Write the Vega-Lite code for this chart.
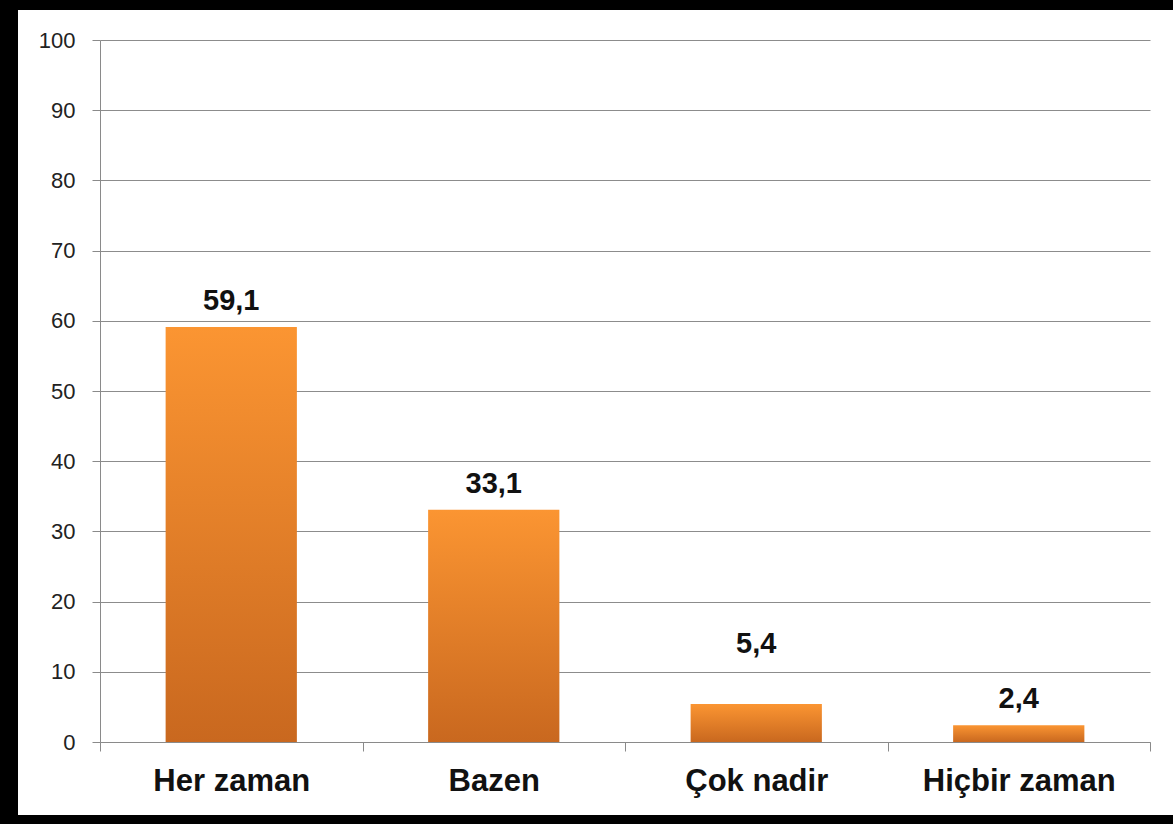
{
  "$schema": "https://vega.github.io/schema/vega-lite/v6.json",
  "width": 1155,
  "height": 805,
  "autosize": {"type": "none"},
  "padding": {"left": 18, "top": 10, "right": 0, "bottom": 9},
  "background": "black",
  "config": {
    "view": {"fill": "white", "stroke": null},
    "locale": {"number": {"decimal": ",", "thousands": ".", "grouping": [3], "currency": ["", " TL"]}}
  },
  "data": {
    "values": [
      {"kategori": "Her zaman", "yuzde": 59.1},
      {"kategori": "Bazen", "yuzde": 33.1},
      {"kategori": "Çok nadir", "yuzde": 5.4},
      {"kategori": "Hiçbir zaman", "yuzde": 2.4}
    ]
  },
  "encoding": {
    "x": {
      "field": "kategori",
      "type": "nominal",
      "sort": null,
      "scale": {"range": [82, 1132], "paddingInner": 0, "paddingOuter": 0},
      "axis": {
        "orient": "bottom",
        "offset": -73,
        "title": null,
        "grid": false,
        "domainColor": "#8a8a8a",
        "tickColor": "#8a8a8a",
        "tickSize": 9,
        "tickBand": "extent",
        "labelAngle": 0,
        "labelLimit": 0,
        "labelFont": "Liberation Sans",
        "labelFontWeight": "bold",
        "labelFontSize": 31,
        "labelColor": "#111111",
        "labelPadding": 15
      }
    },
    "y": {
      "field": "yuzde",
      "type": "quantitative",
      "scale": {"domain": [0, 100], "range": [732, 30]},
      "axis": {
        "orient": "left",
        "offset": -82,
        "title": null,
        "grid": true,
        "gridColor": "#8c8c8c",
        "domainColor": "#8a8a8a",
        "tickColor": "#8a8a8a",
        "tickSize": 8,
        "values": [0, 10, 20, 30, 40, 50, 60, 70, 80, 90, 100],
        "labelFont": "Liberation Sans",
        "labelFontSize": 22,
        "labelColor": "#222222",
        "labelPadding": 17
      }
    }
  },
  "layer": [
    {
      "mark": {
        "type": "bar",
        "width": {"band": 0.5},
        "color": {
          "gradient": "linear",
          "x1": 0, "y1": 0, "x2": 0, "y2": 1,
          "stops": [
            {"offset": 0, "color": "#FB9532"},
            {"offset": 1, "color": "#C9681F"}
          ]
        }
      }
    },
    {
      "transform": [{"filter": "datum.kategori !== 'Çok nadir'"}],
      "mark": {"type": "text", "baseline": "alphabetic", "dy": -17, "font": "Liberation Sans", "fontWeight": "bold", "fontSize": 29, "color": "#111111"},
      "encoding": {"text": {"field": "yuzde", "type": "quantitative", "format": ".1f"}}
    },
    {
      "transform": [{"filter": "datum.kategori === 'Çok nadir'"}],
      "mark": {"type": "text", "baseline": "alphabetic", "dy": -51, "font": "Liberation Sans", "fontWeight": "bold", "fontSize": 29, "color": "#111111"},
      "encoding": {"text": {"field": "yuzde", "type": "quantitative", "format": ".1f"}}
    }
  ]
}
